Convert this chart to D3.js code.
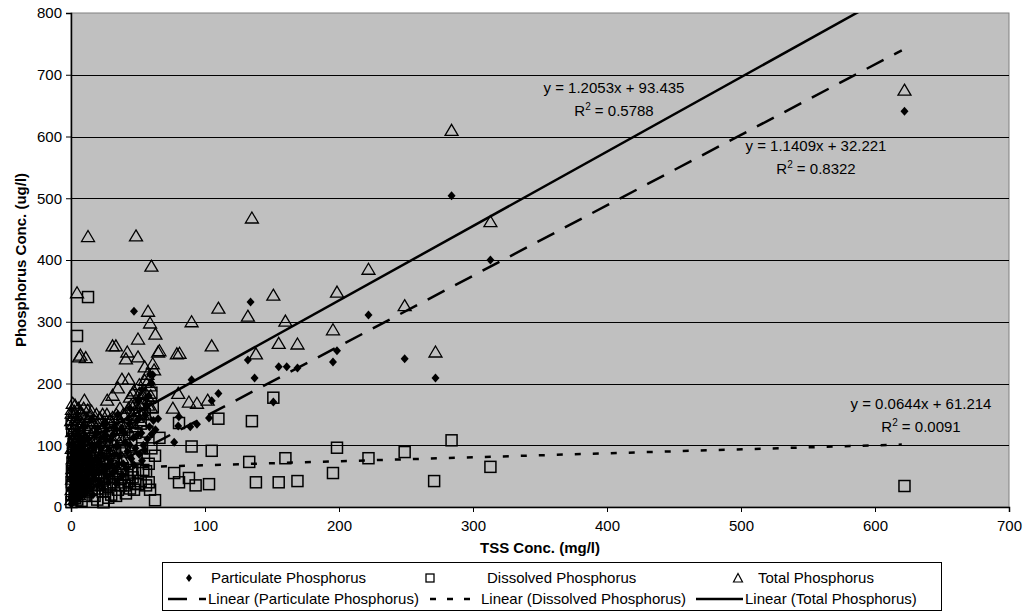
<!DOCTYPE html>
<html>
<head>
<meta charset="utf-8">
<script src="https://cdn.jsdelivr.net/npm/d3@7"></script>
<style>
    body { margin: 0; background: #fff; }
    svg text { font-family: "Liberation Sans", Arial, sans-serif; fill: #000; }
</style>
</head>
<body>
<svg id="chart" width="1026" height="612"></svg>
<script>
// TSS (mg/l) vs particulate phosphorus (ug/l)
var particulate = [
    [0.2,5],[0.5,15],[0.8,30],[1.1,8],[1.4,22],[1.8,40],[2.2,12],[2.6,55],[3.0,25],[3.4,70],
    [3.8,18],[4.2,45],[4.8,32],[5.4,60],[6.0,14],[6.6,50],[7.2,28],[7.8,80],[8.4,38],[9.0,62],
    [9.8,20],[10.6,48],[11.4,72],[12.2,35],[13.0,90],[14.0,55],[15.0,30],[16.0,68],[17.0,95],[18.0,45],
    [19.0,78],[20.0,58],[21.0,105],[22.0,40],[23.0,85],[24.0,65],[25.5,110],[27.0,50],[28.5,92],[30.0,75],
    [31.5,118],[33.0,60],[34.5,98],[36.0,82],[37.5,125],[39.0,70],[40.5,105],[42.0,90],[43.5,135],[45.0,78],
    [46.5,112],[48.0,95],[49.5,140],[51.0,85],[52.5,120],[54.0,100],[55.5,148],[57.0,110],[58.5,130],[60.0,118],
    [61.5,140],[63.0,125],[56,165],[58,180],[60,200],[59,215],[61,214],[65,143],[47,317],[1.5,100],
    [2.8,88],[5,118],[9,130],[15,142],[20,128],[26,135],[35,150],[44,160],[50,172],[53,190],
    [0.4,60],[0.9,75],[1.6,90],[2.4,30],[3.2,48],[4.0,85],[4.6,12],[5.8,95],[6.4,38],[7.0,65],
    [7.6,110],[8.2,20],[8.8,100],[9.4,45],[10.2,85],[11.0,25],[11.8,58],[12.6,110],[13.4,40],[14.4,75],
    [15.4,100],[16.4,20],[17.4,52],[18.6,120],[19.8,35],[21.0,72],[22.5,95],[24.0,30],[25.0,80],[26.5,62],
    [28.0,40],[29.5,108],[31.0,55],[32.5,85],[34.0,38],[35.5,70],[38.0,50],[41.0,62],[44.0,100],[47.0,68],
    [50.0,118],[53.0,75],[55.0,92],[40,120],[33,128],
    [80.5,146],[89,130],[94,134],[77,105],[80,131],[90,206],[103,144],[105,172],[110,184],[132,238],
    [134,332],[137,209],[151,170],[155,227],[161,227],[169,225],[195.5,235],[198.5,253],[222,311],[249,240],
    [272,209],[284,504],[313,400],[622,641]
];
// TSS vs dissolved phosphorus
var dissolved = [
    [0.3,8],[0.6,20],[1.0,35],[1.3,50],[1.7,65],[2.0,80],[2.4,95],[2.8,110],[0.9,125],[3.2,15],
    [3.6,30],[4.0,45],[4.5,60],[5.0,75],[5.5,90],[6.0,105],[6.5,25],[7.0,40],[7.6,55],[8.2,70],
    [8.8,85],[9.5,100],[10.2,18],[11.0,35],[11.8,50],[12.6,65],[13.5,80],[14.4,95],[15.4,28],[16.4,45],
    [17.4,60],[18.5,75],[19.6,12],[20.8,38],[22.0,55],[23.2,70],[24.4,8],[25.6,30],[27.0,48],[28.4,62],
    [30.0,20],[31.6,40],[33.2,55],[35.0,28],[36.8,45],[38.6,62],[40.4,35],[42.2,52],[44.0,30],[46.0,48],
    [48.0,38],[50.0,55],[52.0,42],[54.0,60],[56.0,35],[58.0,40],[50,37],[45,100],[48,120],[52,135],
    [55,150],[40,90],[35,110],[30,125],[28,138],[22,122],[18,110],[58,70],[60,95],[57,122],
    [0.4,40],[0.7,58],[1.1,72],[1.5,88],[1.9,102],[2.3,118],[0.5,135],[2.6,22],[3.0,52],[3.4,68],
    [3.8,85],[4.2,98],[4.7,12],[5.2,38],[5.8,115],[6.3,50],[6.8,68],[7.3,82],[7.9,10],[8.5,30],
    [9.1,48],[9.8,62],[10.5,78],[11.2,92],[12.0,25],[12.8,42],[13.6,110],[14.6,55],[15.6,70],[16.6,88],
    [17.6,18],[18.8,35],[20.0,50],[21.2,65],[22.4,88],[23.6,25],[25.0,45],[26.4,78],[27.8,15],[29.2,35],
    [30.6,58],[32.0,75],[33.6,18],[35.2,48],[37.0,35],[39.0,52],[41.0,22],[43.0,42],[45.0,60],[47.0,28],
    [49.0,80],[53.0,95],[56.0,58],[59.0,28],[42,75],[38,95],[33,88],
    [62.7,83],[66,112],[62.7,11],[60,185],[61,162],[4.5,277],[12.7,340],[24,8],[80.6,136],[77,55],
    [80.6,40],[88,47],[93,35],[103,37],[90,98],[105,91],[110,143],[133,73],[135,139],[138,40],
    [151,177],[155,40],[160,79],[169,42],[195.5,55],[198.5,96],[222,79],[249,89],[271,42],[284,108],
    [313,65],[622,34]
];
// TSS vs total phosphorus
var total = [
    [0.3,12],[0.5,28],[0.8,45],[1.0,62],[1.2,78],[0.6,95],[1.5,110],[0.9,122],[1.8,135],[2.1,18],
    [2.4,38],[2.7,55],[3.0,72],[3.3,88],[2.2,104],[3.6,118],[2.9,130],[4.0,25],[4.3,48],[4.6,66],
    [5.0,84],[5.2,100],[4.8,112],[5.6,128],[6.0,35],[6.3,58],[6.8,76],[7.2,92],[6.5,106],[7.6,120],
    [8.0,42],[8.4,64],[8.8,82],[9.2,98],[9.6,116],[10.1,132],[10.5,52],[11.0,70],[11.5,90],[12.0,108],
    [12.6,124],[13.2,60],[13.8,80],[14.5,102],[15.0,118],[15.8,138],[16.5,68],[17.2,88],[18.0,112],[18.8,128],
    [19.5,75],[20.3,96],[21.0,120],[22.0,84],[23.0,106],[24.0,130],[25.0,92],[26.2,114],[27.5,100],[28.8,122],
    [30.0,108],[31.5,90],[33.0,116],[34.5,132],[36.0,104],[38.0,124],[40.0,112],[42.0,138],[44.0,120],[46.0,148],
    [48.0,130],[50.0,156],[52.0,140],[54.0,168],[56.0,150],[58.0,176],[60.0,160],[45.0,165],[40.5,150],[35.5,145],
    [25.5,135],[19.0,150],[0.5,152],[3,165],[7,152],[12.5,157],[14,147],[10,173],[21.5,144],[29,141],
    [0.2,140],[0.7,158],[1.3,168],[1.9,148],[2.5,155],[3.8,145],[4.4,138],[5.4,160],[6.2,142],[7.8,135],
    [8.6,150],[9.4,160],[11.2,145],[12.8,140],[14.2,128],[15.4,155],[16.8,108],[17.6,140],[19.8,110],[20.8,135],
    [22.6,125],[23.6,150],[24.8,112],[26.8,150],[28.2,90],[29.6,132],[31.0,145],[32.2,105],[33.8,150],[35.0,125],
    [37.0,135],[39.0,150],[41.0,128],[43.0,160],[45.5,135],[47.5,155],[49.5,145],[51.5,165],[53.5,150],[55.5,185],
    [57.5,165],[59.5,180],[3.5,50],[6.0,20],[9.0,30],[13.0,40],[17.0,45],[21.0,55],[26.0,60],[32.0,70],
    [38.0,80],[44,178],[47,188],[51,198],[53,182],[55,205],[57,215],[59,196],[61,232],[48,168],
    [52,175],[4.5,347],[12.7,438],[48.5,439],[60,390],[6,243],[11,242],[7,246],[31,261],[33.5,261],
    [42,251],[41,240],[50,272],[50,243],[57.5,317],[59,298],[63,280],[66,253],[55,227],[62,222],
    [58,206],[38,207],[43,207],[46,184],[51,184],[35,193],[31,181],[27,173],[36.5,160],[65,251],
    [79,248],[80,184],[88,170],[94,168],[102,173],[76,160],[81,249],[90,300],[105,261],[110,322],
    [132,309],[135,468],[138,248],[151,343],[155,265],[160,301],[169,264],[195.5,287],[198.5,348],[222,385],
    [249,326],[272,251],[284,610],[313,462],[622,675]
];

// linear trendlines: slope, intercept, R squared (as printed on the chart)
var trendParticulate = ['1.1409', '32.221', '0.8322'];
var trendDissolved = ['0.0644', '61.214', '0.0091'];
var trendTotal = ['1.2053', '93.435', '0.5788'];
var trendRange = [0, 620];

var xTicks = [0, 100, 200, 300, 400, 500, 600, 700];
var yTicks = [0, 100, 200, 300, 400, 500, 600, 700, 800];

(function () {
    var svg = d3.select('#chart');
    var plotLeft = 71, plotRight = 1009, plotTop = 13, plotBottom = 507;

    var x = d3.scaleLinear().domain([0, 700]).range([plotLeft, plotRight]);
    var y = d3.scaleLinear().domain([0, 800]).range([plotBottom, plotTop]);

    svg.append('defs').append('clipPath')
        .attr('id', 'plotclip')
        .append('rect')
        .attr('x', plotLeft).attr('y', plotTop)
        .attr('width', plotRight - plotLeft).attr('height', plotBottom - plotTop);

    svg.append('rect')
        .attr('x', plotLeft).attr('y', plotTop)
        .attr('width', plotRight - plotLeft).attr('height', plotBottom - plotTop)
        .attr('fill', '#c0c0c0')
        .attr('stroke', '#808080')
        .attr('stroke-width', 1);

    svg.append('g')
        .selectAll('line')
        .data(yTicks.filter(function (d) { return d > 0 && d < 800; }))
        .enter()
        .append('line')
        .attr('x1', plotLeft).attr('x2', plotRight)
        .attr('y1', function (d) { return Math.round(y(d)) + 0.5; })
        .attr('y2', function (d) { return Math.round(y(d)) + 0.5; })
        .attr('stroke', '#000')
        .attr('stroke-width', 1);

    var yAxis = svg.append('g')
        .attr('transform', 'translate(' + plotLeft + ',0)')
        .call(d3.axisLeft(y).tickValues(yTicks).tickSize(5).tickPadding(4).tickFormat(d3.format('d')));
    var xAxis = svg.append('g')
        .attr('transform', 'translate(0,' + plotBottom + ')')
        .call(d3.axisBottom(x).tickValues(xTicks).tickSize(5).tickPadding(8).tickFormat(d3.format('d')));

    [yAxis, xAxis].forEach(function (ax) {
        ax.select('.domain').attr('stroke', '#000').attr('stroke-width', 1.5);
        ax.selectAll('.tick line').attr('stroke', '#000');
        ax.selectAll('.tick text')
            .attr('font-family', '"Liberation Sans", Arial, sans-serif')
            .attr('font-size', '15px')
            .attr('fill', '#000');
    });

    svg.append('text')
        .attr('transform', 'translate(26,' + (plotTop + plotBottom) / 2 + ') rotate(-90)')
        .attr('text-anchor', 'middle')
        .attr('font-size', '15px')
        .attr('font-weight', 'bold')
        .text('Phosphorus Conc. (ug/l)');

    svg.append('text')
        .attr('x', (plotLeft + plotRight) / 2)
        .attr('y', 553)
        .attr('text-anchor', 'middle')
        .attr('font-size', '15px')
        .attr('font-weight', 'bold')
        .text('TSS Conc. (mg/l)');

    // trendlines (under the markers)
    var trendGroup = svg.append('g').attr('clip-path', 'url(#plotclip)');
    var lineStyles = [
        { t: trendDissolved, dash: '6,12' },
        { t: trendParticulate, dash: '19,12' },
        { t: trendTotal, dash: null }
    ];
    lineStyles.forEach(function (s) {
        var m = +s.t[0], b = +s.t[1];
        trendGroup.append('line')
            .attr('x1', x(trendRange[0]))
            .attr('y1', y(m * trendRange[0] + b))
            .attr('x2', x(trendRange[1]))
            .attr('y2', y(m * trendRange[1] + b))
            .attr('stroke', '#000')
            .attr('stroke-width', 2.5)
            .attr('stroke-dasharray', s.dash);
    });

    var diamondPath = 'M0,-4.5L4,0L0,4.5L-4,0Z';
    var trianglePath = 'M0,-6L6.5,5L-6.5,5Z';

    var marks = svg.append('g');

    marks.selectAll('rect.dp')
        .data(dissolved)
        .enter()
        .append('rect')
        .attr('class', 'dp')
        .attr('x', function (d) { return x(d[0]) - 5.5; })
        .attr('y', function (d) { return y(d[1]) - 5.5; })
        .attr('width', 11)
        .attr('height', 11)
        .attr('fill', 'none')
        .attr('stroke', '#000')
        .attr('stroke-width', 1.5);

    marks.selectAll('path.tp')
        .data(total)
        .enter()
        .append('path')
        .attr('class', 'tp')
        .attr('d', trianglePath)
        .attr('transform', function (d) { return 'translate(' + x(d[0]) + ',' + y(d[1]) + ')'; })
        .attr('fill', 'none')
        .attr('stroke', '#000')
        .attr('stroke-width', 1.3);

    marks.selectAll('path.pp')
        .data(particulate)
        .enter()
        .append('path')
        .attr('class', 'pp')
        .attr('d', diamondPath)
        .attr('transform', function (d) { return 'translate(' + x(d[0]) + ',' + y(d[1]) + ')'; })
        .attr('fill', '#000');

    // trendline equations
    function equation(t, cx, cy) {
        var g = svg.append('g');
        g.append('text')
            .attr('x', cx).attr('y', cy)
            .attr('text-anchor', 'middle')
            .attr('font-size', '15px')
            .text('y = ' + t[0] + 'x + ' + t[1]);
        var r = g.append('text')
            .attr('x', cx).attr('y', cy + 23)
            .attr('text-anchor', 'middle')
            .attr('font-size', '15px');
        r.append('tspan').text('R');
        r.append('tspan').attr('dy', -6).attr('font-size', '10px').text('2');
        r.append('tspan').attr('dy', 6).text(' = ' + t[2]);
    }
    equation(trendTotal, 614, 93);
    equation(trendParticulate, 816, 151);
    equation(trendDissolved, 921, 409);

    // legend
    var legend = svg.append('g');
    var lgTop = 562, lgRow1 = 578, lgRow2 = 599;
    legend.append('rect')
        .attr('x', 162.5).attr('y', lgTop + 0.5)
        .attr('width', 779).attr('height', 48)
        .attr('fill', '#fff')
        .attr('stroke', '#000');

    var legendItems = [
        { label: 'Particulate Phosphorus', kind: 'diamond', cx: 189, tx: 211, row: lgRow1 },
        { label: 'Dissolved Phosphorus', kind: 'square', cx: 430, tx: 487, row: lgRow1 },
        { label: 'Total Phosphorus', kind: 'triangle', cx: 738, tx: 758, row: lgRow1 },
        { label: 'Linear (Particulate Phosphorus)', kind: 'line', dash: '19,12', x1: 168, x2: 206, tx: 208, row: lgRow2 },
        { label: 'Linear (Dissolved Phosphorus)', kind: 'line', dash: '6,11', x1: 430, x2: 478, tx: 481, row: lgRow2 },
        { label: 'Linear (Total Phosphorus)', kind: 'line', dash: null, x1: 696, x2: 743, tx: 745, row: lgRow2 }
    ];
    legendItems.forEach(function (d) {
        if (d.kind === 'diamond') {
            legend.append('path').attr('d', 'M0,-4L3,0L0,4L-3,0Z')
                .attr('transform', 'translate(' + d.cx + ',' + d.row + ')').attr('fill', '#000');
        } else if (d.kind === 'square') {
            legend.append('rect').attr('x', d.cx - 4).attr('y', d.row - 4)
                .attr('width', 8).attr('height', 8)
                .attr('fill', 'none').attr('stroke', '#000').attr('stroke-width', 1.3);
        } else if (d.kind === 'triangle') {
            legend.append('path').attr('d', 'M0,-4.5L4.5,4L-4.5,4Z')
                .attr('transform', 'translate(' + d.cx + ',' + d.row + ')')
                .attr('fill', 'none').attr('stroke', '#000').attr('stroke-width', 1.2);
        } else {
            legend.append('line')
                .attr('x1', d.x1).attr('x2', d.x2)
                .attr('y1', d.row).attr('y2', d.row)
                .attr('stroke', '#000').attr('stroke-width', 2.5)
                .attr('stroke-dasharray', d.dash);
        }
        legend.append('text')
            .attr('x', d.tx).attr('y', d.row + 5)
            .attr('font-size', '15px')
            .text(d.label);
    });
})();
</script>
</body>
</html>
